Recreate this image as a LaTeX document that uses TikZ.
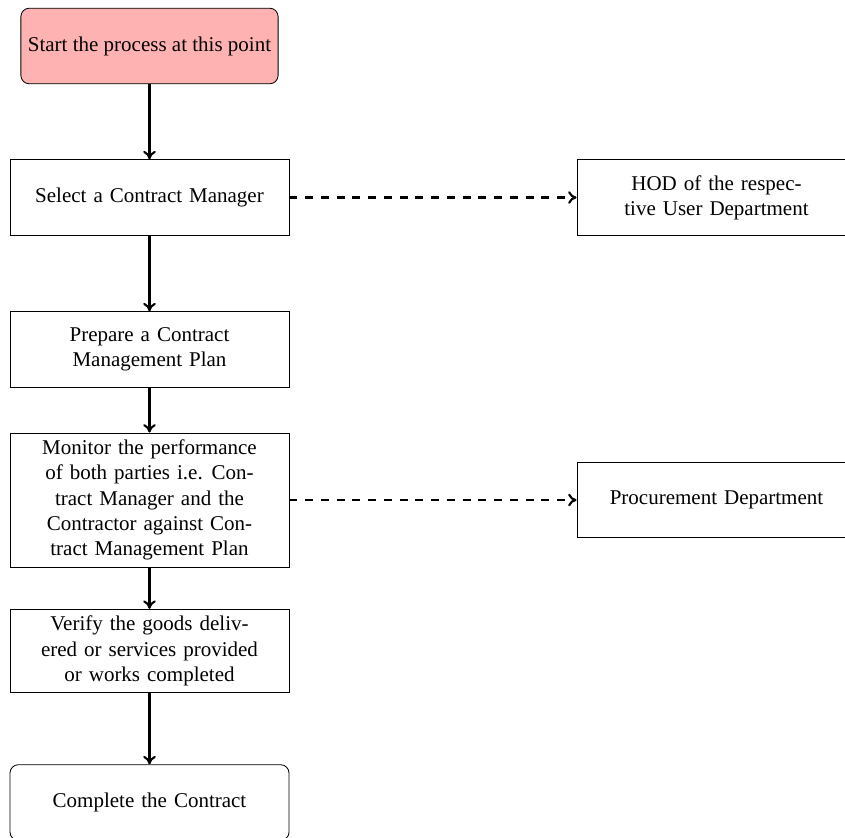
\documentclass[tikz,border=0pt]{standalone}
\usepackage{fontspec}
\setmainfont{Liberation Serif}
\usetikzlibrary{arrows.meta}
\begin{document}
\begin{tikzpicture}[x=0.47619pt,y=-0.47619pt,
  stepbox/.style={draw, minimum width=132.9pt, minimum height=36pt, text width=125pt, align=center},
  startbox/.style={draw, rounded corners, fill=red!30, minimum height=36pt},
  endbox/.style={stepbox, rounded corners},
  arr/.style={-{To[length=4pt,width=6pt]}, line width=1pt},
  darr/.style={arr, dash pattern=on 3.75pt off 3.75pt}]
\useasboundingbox (0,0) rectangle (845,837);
\node[startbox] (start) at (149.5,46) {Start the process at this point};
\node[stepbox] (select) at (149.5,197.5) {Select a Contract Manager};
\node[stepbox] (hod) at (716.5,197.5) {HOD of the respec-\\tive User Department};
\node[stepbox] (prepare) at (149.5,349.5) {Prepare a Contract\\Management Plan};
\node[stepbox] (monitor) at (149.5,500) {Monitor the performance\\of both parties i.e.\hspace{4.2pt}Con-\\tract Manager and the\\Contractor against Con-\\tract Management Plan};
\node[stepbox] (proc) at (716.5,500) {Procurement Department};
\node[stepbox] (verify) at (149.5,651) {Verify the goods deliv-\\ered or services provided\\or works completed};
\node[endbox] (complete) at (149.5,802.5) {Complete the Contract};
\draw[arr] (start) -- (select);
\draw[arr] (select) -- (prepare);
\draw[arr] (prepare) -- (monitor);
\draw[arr] (monitor) -- (verify);
\draw[arr] (verify) -- (complete);
\draw[darr] (select) -- (hod);
\draw[darr] (monitor) -- (proc);
\end{tikzpicture}
\end{document}
